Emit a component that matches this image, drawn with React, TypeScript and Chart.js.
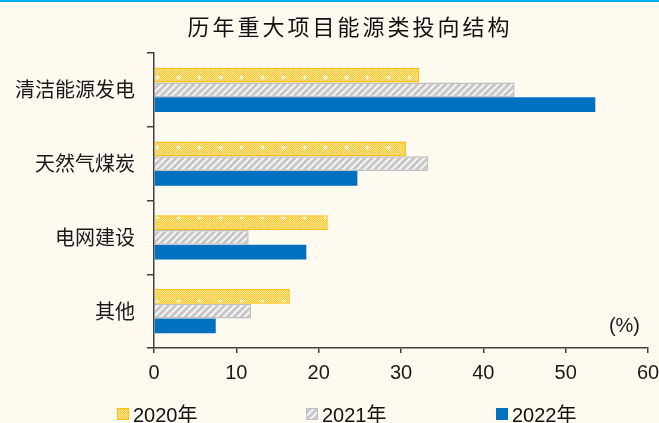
import React, { useEffect, useRef } from 'react';
import { Chart, registerables } from 'chart.js';

Chart.register(...registerables);

const titleText = '历年重大项目能源类投向结构';
const unitText = '(%)';
const categories = ['清洁能源发电', '天然气煤炭', '电网建设', '其他'];
const seriesLabels = ['2020年', '2021年', '2022年'];
const values2020 = [32.2, 30.6, 21.1, 16.5];
const values2021 = [43.8, 33.3, 11.5, 11.8];
const values2022 = [53.6, 24.7, 18.5, 7.5];
const xTicks = [0, 10, 20, 30, 40, 50, 60];

const W = 659;
const H = 423;
const CJK = '"Noto Sans CJK SC"';
const LATIN = '"Liberation Sans", Arial, "Noto Sans CJK SC"';
const legendX = [117, 306, 496];

function makeYellowPattern(ctx: CanvasRenderingContext2D) {
  const c = document.createElement('canvas');
  c.width = 21;
  c.height = 14;
  const g = c.getContext('2d')!;
  for (let y = 0; y < 14; y++) {
    for (let x = 0; x < 21; x++) {
      g.fillStyle = (x + y) % 2 === 0 ? '#FFC82E' : '#FFE697';
      g.fillRect(x, y, 1, 1);
    }
  }
  g.fillStyle = '#FFFFFF';
  g.fillRect(8, 7, 5, 1);
  g.fillRect(10, 5, 1, 5);
  return ctx.createPattern(c, 'repeat')!;
}

function makeGrayPattern(ctx: CanvasRenderingContext2D) {
  const c = document.createElement('canvas');
  c.width = 7;
  c.height = 7;
  const g = c.getContext('2d')!;
  for (let y = 0; y < 7; y++) {
    for (let x = 0; x < 7; x++) {
      const k = (x + y) % 7;
      g.fillStyle = k < 2 ? '#F4F4F4' : k === 2 || k === 6 ? '#DCDCDC' : '#C6C6C6';
      g.fillRect(x, y, 1, 1);
    }
  }
  return ctx.createPattern(c, 'repeat')!;
}

const decor = {
  id: 'decor',
  beforeDraw(chart: any) {
    const { ctx, width, height } = chart;
    ctx.save();
    ctx.fillStyle = '#FFFAF0';
    ctx.fillRect(0, 0, width, height);
    ctx.fillStyle = '#00B0F0';
    ctx.fillRect(0, 0, width, 2);
    ctx.restore();
  },
  afterDraw(chart: any) {
    const { ctx, chartArea } = chart;
    ctx.save();
    // title
    ctx.fillStyle = '#111111';
    ctx.font = `22px ${CJK}`;
    (ctx as any).letterSpacing = '3px';
    ctx.textAlign = 'center';
    ctx.textBaseline = 'middle';
    ctx.fillText(titleText, 350, 27);
    (ctx as any).letterSpacing = '0px';
    // unit
    ctx.font = `20px ${LATIN}`;
    ctx.textAlign = 'right';
    ctx.fillStyle = '#1A1A1A';
    ctx.fillText(unitText, chartArea.right - 8, chartArea.bottom - 22);
    // legend
    ctx.textAlign = 'left';
    ctx.textBaseline = 'alphabetic';
    chart.data.datasets.forEach((ds: any, i: number) => {
      const x = legendX[i];
      const y = 408;
      ctx.fillStyle = ds.backgroundColor;
      ctx.fillRect(x, y, 12, 12);
      if (ds.borderWidth) {
        ctx.strokeStyle = ds.borderColor;
        ctx.lineWidth = 1;
        ctx.strokeRect(x + 0.5, y + 0.5, 11, 11);
      }
      ctx.fillStyle = '#111111';
      ctx.font = `20px ${LATIN}`;
      ctx.fillText(ds.label, x + 16, 422);
    });
    ctx.restore();
  },
};

export default function App() {
  const ref = useRef<HTMLCanvasElement>(null);
  useEffect(() => {
    document.body.style.margin = '0';
    document.body.style.background = '#FFFAF0';
    const canvas = ref.current!;
    const ctx = canvas.getContext('2d')!;
    const yellow = makeYellowPattern(ctx);
    const gray = makeGrayPattern(ctx);
    const chart = new Chart(canvas, {
      type: 'bar',
      data: {
        labels: categories,
        datasets: [
          { label: seriesLabels[0], data: values2020, backgroundColor: yellow as any, borderColor: '#FFC000', borderWidth: 1.5 },
          { label: seriesLabels[1], data: values2021, backgroundColor: gray as any, borderColor: '#BFBFBF', borderWidth: 1.5 },
          { label: seriesLabels[2], data: values2022, backgroundColor: '#0070C0', borderWidth: 0 },
        ],
      },
      options: {
        indexAxis: 'y',
        responsive: false,
        animation: false,
        devicePixelRatio: 1,
        datasets: { bar: { categoryPercentage: 0.6, barPercentage: 1.0 } },
        layout: { padding: { top: 53, right: 11, left: 0, bottom: 0 }, autoPadding: false },
        plugins: {
          legend: { display: false },
          title: { display: false },
          tooltip: { enabled: false },
        },
        scales: {
          x: {
            type: 'linear',
            min: xTicks[0],
            max: xTicks[xTicks.length - 1],
            afterBuildTicks: (s: any) => {
              s.ticks = xTicks.map((v) => ({ value: v }));
            },
            ticks: { font: { family: LATIN, size: 20 }, color: '#1A1A1A', padding: 8 },
            grid: { drawOnChartArea: false, drawTicks: true, tickLength: 5, color: '#404040', lineWidth: 1.5 },
            border: { color: '#404040', width: 1.5 },
            afterFit: (scale: any) => {
              scale.height = 75;
              scale.paddingLeft = 0;
              scale.paddingRight = 0;
            },
          },
          y: {
            type: 'category',
            ticks: { font: { family: CJK, size: 20 }, color: '#1A1A1A', padding: 12 },
            grid: { drawOnChartArea: false, drawTicks: true, tickLength: 7, color: '#404040', lineWidth: 1.5, offset: true },
            border: { color: '#404040', width: 1.5 },
            afterFit: (scale: any) => {
              scale.width = 154;
              scale.paddingTop = 0;
              scale.paddingBottom = 0;
            },
          },
        },
      },
      plugins: [decor],
    });
    return () => chart.destroy();
  }, []);
  return <canvas ref={ref} width={W} height={H} style={{ display: 'block', width: W, height: H }} />;
}
